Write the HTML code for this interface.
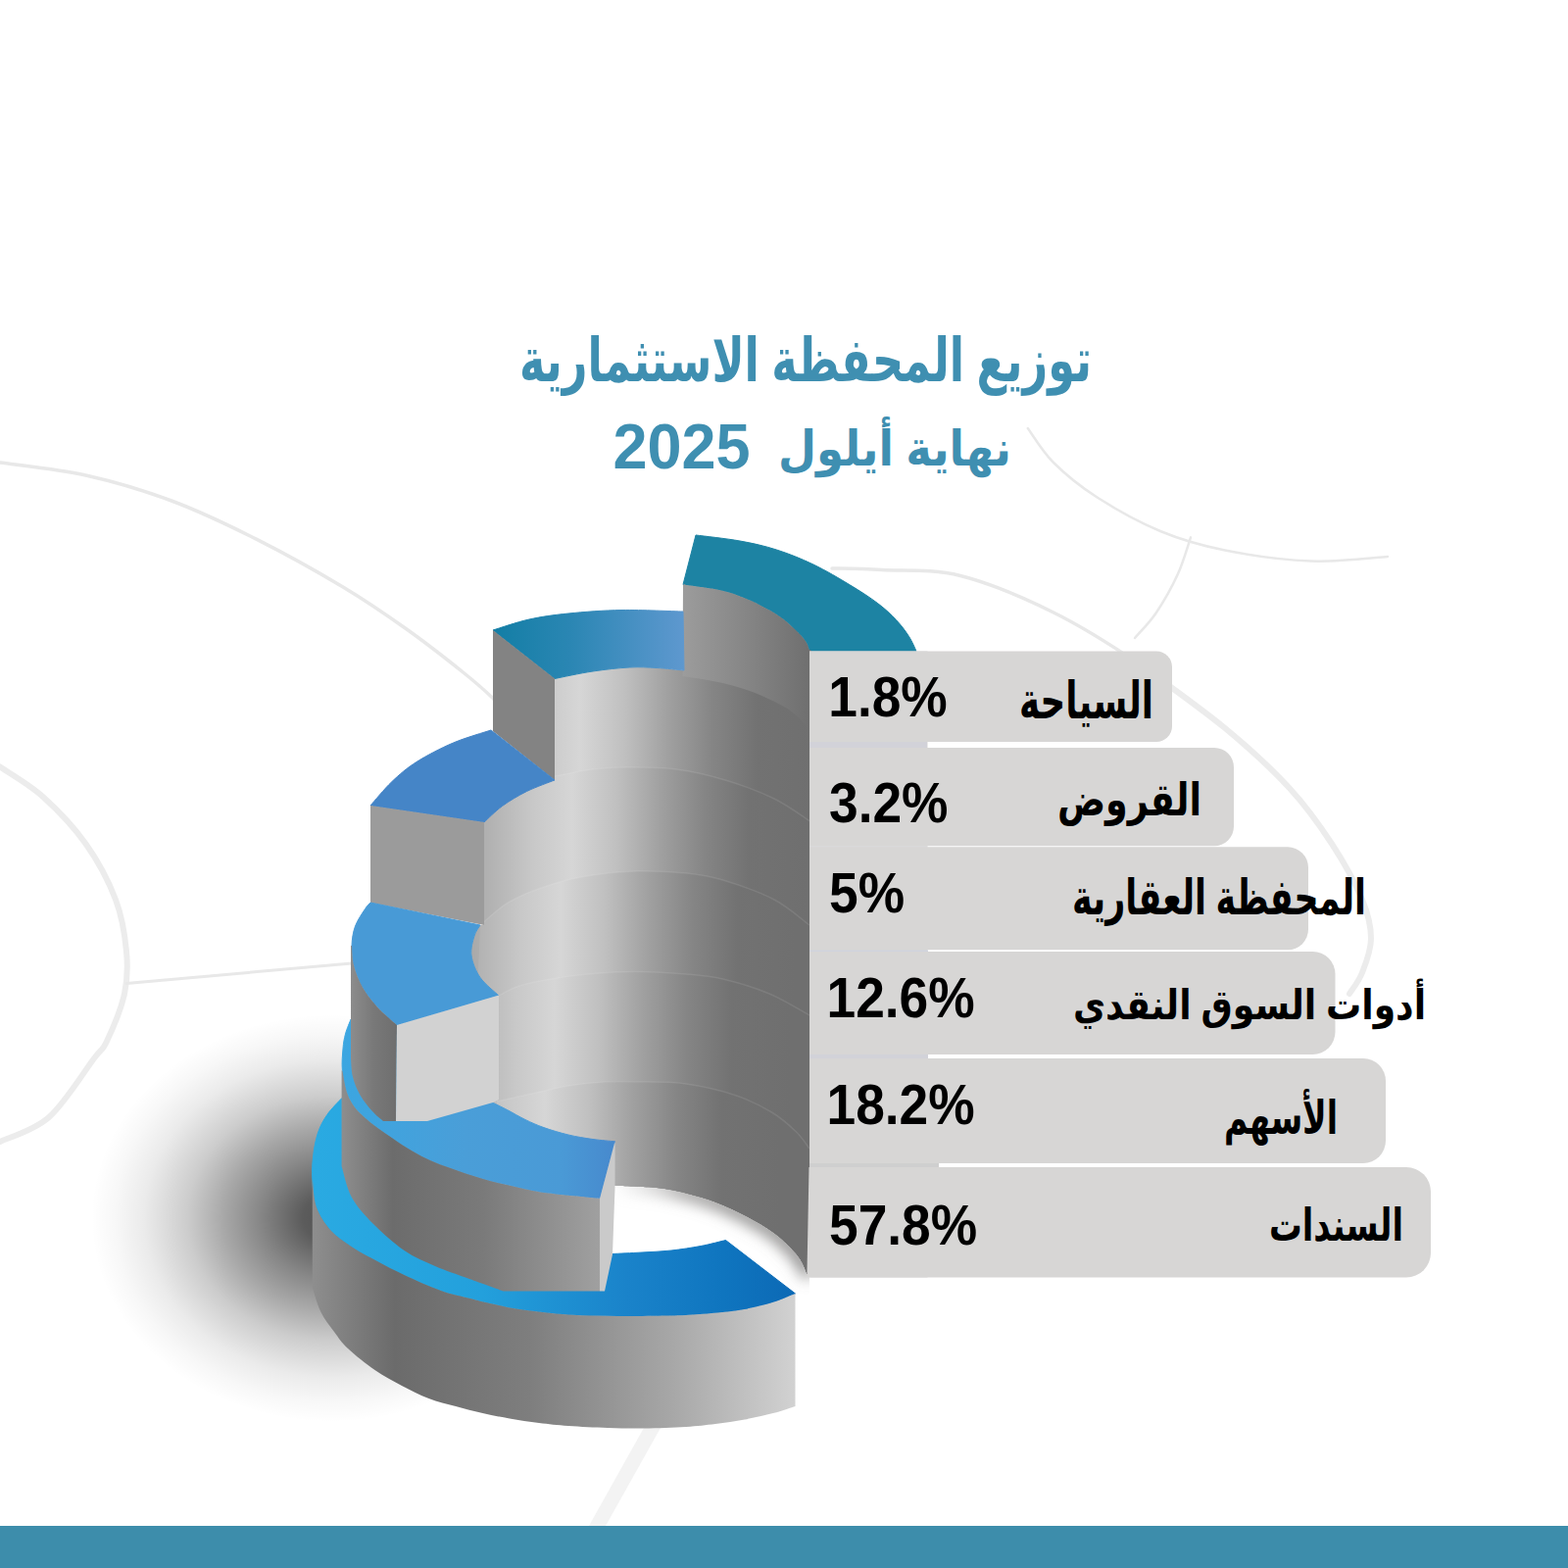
<!DOCTYPE html>
<html lang="ar"><head><meta charset="utf-8"><title>توزيع المحفظة الاستثمارية</title>
<style>
html,body{margin:0;padding:0;background:#fff}
body{width:1600px;height:1600px;position:relative;overflow:hidden;font-family:"Liberation Sans",sans-serif}
svg{position:absolute;left:0;top:0}
.bar{position:absolute;left:0;top:1557px;width:1600px;height:43px;background:#3d8dab}
.p{position:absolute;left:844.5px;font-weight:bold;font-size:53.3px;line-height:60px;height:60px;color:#000;white-space:nowrap;transform:scaleY(1.085);transform-origin:0 48.3px}
.yr{position:absolute;left:625.4px;top:421.2px;font-weight:bold;font-size:63px;line-height:70px;color:#3f8fb1;transform:scaleY(1.03);transform-origin:0 56.8px}
.h{position:absolute;overflow:hidden;color:transparent;font-size:10px;line-height:10px;direction:rtl;white-space:nowrap;pointer-events:none}
</style></head><body>
<svg width="1600" height="1600" viewBox="0 0 1600 1600" role="img" aria-label="توزيع المحفظة الاستثمارية نهاية أيلول 2025">
<defs>
<linearGradient id="s5" gradientUnits="userSpaceOnUse" x1="492" y1="0" x2="832" y2="0"><stop offset="0.000" stop-color="#aaaaaa"/><stop offset="0.176" stop-color="#c8c8c8"/><stop offset="0.294" stop-color="#d6d6d6"/><stop offset="0.426" stop-color="#c0c0c0"/><stop offset="0.559" stop-color="#a0a0a0"/><stop offset="0.691" stop-color="#858585"/><stop offset="0.824" stop-color="#727272"/><stop offset="1.000" stop-color="#6f6f6f"/></linearGradient><linearGradient id="s4" gradientUnits="userSpaceOnUse" x1="484" y1="0" x2="824" y2="0"><stop offset="0.000" stop-color="#aaaaaa"/><stop offset="0.176" stop-color="#c8c8c8"/><stop offset="0.294" stop-color="#d6d6d6"/><stop offset="0.426" stop-color="#c0c0c0"/><stop offset="0.559" stop-color="#a0a0a0"/><stop offset="0.691" stop-color="#858585"/><stop offset="0.824" stop-color="#727272"/><stop offset="1.000" stop-color="#6f6f6f"/></linearGradient><linearGradient id="s3" gradientUnits="userSpaceOnUse" x1="472" y1="0" x2="812" y2="0"><stop offset="0.000" stop-color="#aaaaaa"/><stop offset="0.176" stop-color="#c8c8c8"/><stop offset="0.294" stop-color="#d6d6d6"/><stop offset="0.426" stop-color="#c0c0c0"/><stop offset="0.559" stop-color="#a0a0a0"/><stop offset="0.691" stop-color="#858585"/><stop offset="0.824" stop-color="#727272"/><stop offset="1.000" stop-color="#6f6f6f"/></linearGradient><linearGradient id="s2" gradientUnits="userSpaceOnUse" x1="466" y1="0" x2="806" y2="0"><stop offset="0.000" stop-color="#aaaaaa"/><stop offset="0.176" stop-color="#c8c8c8"/><stop offset="0.294" stop-color="#d6d6d6"/><stop offset="0.426" stop-color="#c0c0c0"/><stop offset="0.559" stop-color="#a0a0a0"/><stop offset="0.691" stop-color="#858585"/><stop offset="0.824" stop-color="#727272"/><stop offset="1.000" stop-color="#6f6f6f"/></linearGradient><linearGradient id="s1" gradientUnits="userSpaceOnUse" x1="456" y1="0" x2="796" y2="0"><stop offset="0.000" stop-color="#aaaaaa"/><stop offset="0.176" stop-color="#c8c8c8"/><stop offset="0.294" stop-color="#d6d6d6"/><stop offset="0.426" stop-color="#c0c0c0"/><stop offset="0.559" stop-color="#a0a0a0"/><stop offset="0.691" stop-color="#858585"/><stop offset="0.824" stop-color="#727272"/><stop offset="1.000" stop-color="#6f6f6f"/></linearGradient>
<linearGradient id="g6" gradientUnits="userSpaceOnUse" x1="697" y1="0" x2="826" y2="0"><stop offset="0" stop-color="#9c9c9c"/><stop offset="1" stop-color="#6f6f6f"/></linearGradient>
<linearGradient id="t5" gradientUnits="userSpaceOnUse" x1="503" y1="0" x2="698" y2="0"><stop offset="0" stop-color="#137ea5"/><stop offset=".4" stop-color="#2a86b3"/><stop offset="1" stop-color="#5e98cf"/></linearGradient>
<linearGradient id="t2" gradientUnits="userSpaceOnUse" x1="348" y1="0" x2="628" y2="0"><stop offset="0" stop-color="#3ba6e1"/><stop offset=".45" stop-color="#4a9ed8"/><stop offset=".8" stop-color="#4a9ad6"/><stop offset="1" stop-color="#4789cd"/></linearGradient>
<linearGradient id="t1" gradientUnits="userSpaceOnUse" x1="319" y1="0" x2="812" y2="0"><stop offset="0" stop-color="#2aaae2"/><stop offset=".35" stop-color="#23a0dc"/><stop offset=".65" stop-color="#1a83ca"/><stop offset=".85" stop-color="#0f75bf"/><stop offset="1" stop-color="#0c69b5"/></linearGradient>
<linearGradient id="w3" gradientUnits="userSpaceOnUse" x1="358" y1="0" x2="406" y2="0"><stop offset="0" stop-color="#8c8c8c"/><stop offset=".5" stop-color="#787878"/><stop offset="1" stop-color="#6e6e6e"/></linearGradient>
<linearGradient id="w2" gradientUnits="userSpaceOnUse" x1="348" y1="0" x2="612" y2="0"><stop offset="0" stop-color="#8e8e8e"/><stop offset=".2" stop-color="#6c6c6c"/><stop offset=".55" stop-color="#7a7a7a"/><stop offset="1" stop-color="#a0a0a0"/></linearGradient>
<linearGradient id="w1" gradientUnits="userSpaceOnUse" x1="319" y1="0" x2="812" y2="0"><stop offset="0" stop-color="#8e8e8e"/><stop offset=".17" stop-color="#6b6b6b"/><stop offset=".45" stop-color="#7e7e7e"/><stop offset=".75" stop-color="#a8a8a8"/><stop offset="1" stop-color="#d2d2d2"/></linearGradient>
<linearGradient id="hs" gradientUnits="userSpaceOnUse" x1="627" y1="0" x2="827" y2="0"><stop offset="0" stop-color="#b0b0b0" stop-opacity="0"/><stop offset=".12" stop-color="#a8a8a8" stop-opacity=".35"/><stop offset=".36" stop-color="#8c8a89" stop-opacity="1"/><stop offset=".66" stop-color="#757473" stop-opacity="1"/><stop offset="1" stop-color="#706f6e" stop-opacity="1"/></linearGradient>
<radialGradient id="fs" gradientUnits="objectBoundingBox" cx=".5" cy=".5" r=".5"><stop offset="0" stop-opacity=".68"/><stop offset=".12" stop-opacity=".64"/><stop offset=".3" stop-opacity=".47"/><stop offset=".45" stop-opacity=".34"/><stop offset=".6" stop-opacity=".2"/><stop offset=".78" stop-opacity=".08"/><stop offset=".9" stop-opacity=".03"/><stop offset="1" stop-opacity="0"/></radialGradient>
<filter id="sh" x="-100%" y="-100%" width="300%" height="300%"><feGaussianBlur stdDeviation="62 38"/></filter>
<filter id="sh2" x="-50%" y="-50%" width="200%" height="200%"><feGaussianBlur stdDeviation="8"/></filter>
<clipPath id="cb"><path d="M566 692.5C572.5 691.2 592.2 686.9 605 685C617.8 683.1 631.7 681.6 642.5 681C653.3 680.4 660.8 681 670 681.5C679.2 682 693.3 683.6 698 684L698 596L828 664L828 1300L823.5 1300C821.2 1292.8 818 1285.2 812.5 1279C807 1272.8 798.8 1264.5 790 1258C781.2 1251.5 770 1245.2 760 1240C750 1234.8 740 1230.2 730 1226.5C720 1222.8 710 1219.9 700 1217.5C690 1215.1 682.1 1213.2 670 1212C657.9 1210.8 634.4 1210.3 627.2 1210L627.5 1164.75C623.8 1164.4 612.9 1163.6 605 1162.5C597.1 1161.4 588.3 1160 580 1158C571.7 1156 562.3 1153.2 555 1150.6C547.7 1148 542.2 1145.5 536 1142.5C529.8 1139.5 523.1 1135.4 517.5 1132.5C511.9 1129.6 505 1126.2 502.5 1125L509 1122L509 1016C505.8 1012.9 494.7 1004.3 490 997.5C485.3 990.7 482 982.1 481 975C480 967.9 482.5 960.2 484 955C485.5 949.8 489 945.8 490 944L494 944L494 839C497.1 836.2 505.2 827.8 512.5 822.5C519.8 817.2 528.6 811.9 537.5 807.5C546.4 803.1 561.2 797.9 566 796L566 692.5Z"/></clipPath>
<clipPath id="hole"><path d="M627 1150L826 1150L826 1345L811.5 1320L740.5 1265.5C736.2 1266.5 724.2 1269.8 715 1271.5C705.8 1273.2 695 1274.9 685 1276C675 1277.1 665 1277.4 655 1278C645 1278.6 630 1279.2 625 1279.5L627 1212Z"/></clipPath>
</defs>
<!-- background watermark curves -->
<g fill="none" stroke="#e8e8e8" stroke-linecap="round">
<path d="M0 472C14.6 474.2 58.3 478.5 87.5 485C116.7 491.5 145.8 500.1 175 511C204.2 521.9 233.3 535.9 262.5 550.6C291.7 565.3 324.5 583.7 350 599C375.5 614.3 395.2 628 415.6 642.5C436 657 457.9 674.3 472.5 686C487.1 697.7 491.8 701.8 503 712.5C514.2 723.2 533.8 743.8 540 750" stroke-width="3.5"/>
<path d="M849 580C857.5 580.2 878.2 580.2 900 581.5C921.8 582.8 950.8 580.2 980 587.5C1009.2 594.8 1044.6 610 1075 625C1105.4 640 1133.3 657.8 1162.5 677.5C1191.7 697.2 1235.4 732.1 1250 743" stroke-width="3.5"/>
<path d="M1162.5 677.5C1177.1 688.4 1224.5 721.9 1250 743C1275.5 764.1 1297.4 784.3 1315.6 804C1333.8 823.7 1346.6 842 1359 861C1371.4 880 1383.3 901.9 1390 918C1396.7 934.1 1399 945.1 1399 957.5C1399 969.9 1393.7 983.1 1390 992.5C1386.3 1001.9 1379.2 1010.4 1377 1014" stroke-width="6" stroke="#ececec"/>
<path d="M1048.8 437C1053.1 442.8 1063.3 460.3 1075 472C1086.7 483.7 1100.6 495.3 1118.8 507C1136.9 518.7 1162.1 532.9 1184 542C1205.9 551.1 1224.4 556.4 1250 561.5C1275.6 566.6 1309.8 571.4 1337.5 572.5C1365.2 573.6 1402.9 568.8 1416 568" stroke-width="2.5"/>
<path d="M1215 548.4C1212.8 554.6 1207.8 572.8 1202 585.6C1196.2 598.4 1187.3 614.1 1180 625C1172.7 635.9 1161.7 646.7 1158 651" stroke-width="2.5"/>
<path d="M0 782.5C7.3 787.6 29.2 799.9 43.8 813C58.3 826.1 75.1 843.5 87.5 861C99.9 878.5 111.1 899.7 118 918C124.9 936.3 127.5 954.6 129 970.6C130.5 986.6 130.3 998.7 127 1014C123.7 1029.3 114.2 1051.5 109 1062.5C103.8 1073.5 105.8 1067.1 96 1080C86.2 1092.9 66 1125.8 50 1140C34 1154.2 8.3 1160.8 0 1165" stroke-width="6" stroke="#ececec"/>
<path d="M129 1003.5L358.75 983" stroke-width="3"/>
</g>
<path d="M601 1557L618 1557L674 1457L657 1457Z" fill="#f3f3f3"/>
<!-- floor shadow -->
<ellipse cx="338" cy="1243" rx="245" ry="208" fill="url(#fs)"/>
<path d="M612 1200L826 1200L826 1345L811.5 1320L740.5 1265.5C736.2 1266.5 724.2 1269.8 715 1271.5C705.8 1273.2 695 1274.9 685 1276C675 1277.1 665 1277.4 655 1278C645 1278.6 630 1279.2 625 1279.5L612 1300Z" fill="#fff"/>
<!-- level 6 -->
<path d="M710 546C717.5 547 741.2 549.5 755 552C768.8 554.5 780 557 792.5 561C805 565 817.5 570 830 576C842.5 582 856.6 590.4 867.5 597C878.4 603.6 887.8 609.7 895.6 615.6C903.4 621.5 909.1 626.9 914.4 632.5C919.7 638.1 924.1 644.1 927.5 649.4C930.9 654.7 933.8 661.9 935 664.4L826 664.4C825.4 662.8 825 658.7 822.5 655C820 651.3 816 646.7 811 642C806 637.3 800.3 632 792.5 627C784.7 622 773.4 616.1 764 612C754.6 607.9 747.2 605.1 736 602.5C724.8 599.9 703.5 597.5 697 596.5Z" fill="#1d83a3" stroke="#1d83a3" stroke-width="1"/>
<g clip-path="url(#hole)"><path d="M627.2 1210C634.4 1210.3 657.9 1210.8 670 1212C682.1 1213.2 690 1215.1 700 1217.5C710 1219.9 720 1222.8 730 1226.5C740 1230.2 750 1234.8 760 1240C770 1245.2 781.2 1251.5 790 1258C798.8 1264.5 807 1272.8 812.5 1279C818 1285.2 820.9 1291.7 823 1295.5C825.1 1299.3 824.7 1300.9 825 1302" fill="none" stroke="url(#hs)" stroke-width="12" filter="url(#sh2)"/></g>
<!-- body -->
<g clip-path="url(#cb)">
<rect x="470" y="590" width="360" height="720" fill="url(#s5)"/>
<path d="M566 792C572.5 790.8 592.7 786.5 605 785C617.3 783.5 625.8 783 640 783C654.2 783 673.3 782.8 690 785C706.7 787.2 723.3 791 740 796C756.7 801 775.3 807.8 790 815C804.7 822.2 821.7 835 828 839L826 1400L470 1400L470 800Z" fill="url(#s4)"/>
<path d="M490 944C495 940 507.9 926.9 520 920C532.1 913.1 548.3 907 562.5 902.5C576.7 898 590.4 895.2 605 893C619.6 890.8 634.2 889.3 650 889C665.8 888.7 685.4 889.5 700 891C714.6 892.5 722.5 893.5 737.5 898C752.5 902.5 775.2 910.3 790 918C804.8 925.7 820 939.7 826 944L826 1400L470 1400Z" fill="url(#s3)"/>
<path d="M509 1016C512.5 1014.3 521.1 1008.8 530 1006C538.9 1003.2 550 1001.1 562.5 999C575 996.9 590.4 994.8 605 993.5C619.6 992.2 634.2 991.4 650 991.5C665.8 991.6 685.4 992.8 700 994C714.6 995.2 723.3 995.7 737.5 999C751.7 1002.3 770.2 1007.8 785 1014C799.8 1020.2 819.2 1032.3 826 1036L826 1400L470 1400Z" fill="url(#s2)"/>
<path d="M507 1124C512.9 1122.7 530.3 1118.7 542.5 1116C554.7 1113.3 567.5 1110 580 1108C592.5 1106 605 1104.7 617.5 1104C630 1103.3 641.2 1103.7 655 1104C668.8 1104.3 684.2 1103.8 700 1106C715.8 1108.2 735.4 1112.7 750 1117.5C764.6 1122.3 777.1 1128.8 787.5 1135C797.9 1141.2 806.1 1148.8 812.5 1155C818.9 1161.2 823.8 1169.2 826 1172L826 1400L470 1400Z" fill="url(#s1)"/>
<g fill="none" stroke="#fff" stroke-opacity=".09" stroke-width="1.5">
<path d="M566 792C572.5 790.8 592.7 786.5 605 785C617.3 783.5 625.8 783 640 783C654.2 783 673.3 782.8 690 785C706.7 787.2 723.3 791 740 796C756.7 801 775.3 807.8 790 815C804.7 822.2 821.7 835 828 839"/><path d="M490 944C495 940 507.9 926.9 520 920C532.1 913.1 548.3 907 562.5 902.5C576.7 898 590.4 895.2 605 893C619.6 890.8 634.2 889.3 650 889C665.8 888.7 685.4 889.5 700 891C714.6 892.5 722.5 893.5 737.5 898C752.5 902.5 775.2 910.3 790 918C804.8 925.7 820 939.7 826 944"/><path d="M509 1016C512.5 1014.3 521.1 1008.8 530 1006C538.9 1003.2 550 1001.1 562.5 999C575 996.9 590.4 994.8 605 993.5C619.6 992.2 634.2 991.4 650 991.5C665.8 991.6 685.4 992.8 700 994C714.6 995.2 723.3 995.7 737.5 999C751.7 1002.3 770.2 1007.8 785 1014C799.8 1020.2 819.2 1032.3 826 1036"/><path d="M507 1124C512.9 1122.7 530.3 1118.7 542.5 1116C554.7 1113.3 567.5 1110 580 1108C592.5 1106 605 1104.7 617.5 1104C630 1103.3 641.2 1103.7 655 1104C668.8 1104.3 684.2 1103.8 700 1106C715.8 1108.2 735.4 1112.7 750 1117.5C764.6 1122.3 777.1 1128.8 787.5 1135C797.9 1141.2 806.1 1148.8 812.5 1155C818.9 1161.2 823.8 1169.2 826 1172"/></g>
</g>
<path d="M697 596.5C703.5 597.5 724.8 599.9 736 602.5C747.2 605.1 754.6 607.9 764 612C773.4 616.1 784.7 622 792.5 627C800.3 632 806 637.3 811 642C816 646.7 820 651.3 822.5 655C825 658.7 825.4 662.8 826 664.4L828 664.4L828 748C824.6 745.8 821.4 739.2 817.5 735C813.6 730.8 809.2 726.7 802.5 722.5C795.8 718.3 785.8 713.6 777.5 710C769.2 706.4 760.8 703.5 752.5 701C744.2 698.5 736.8 696.8 727.5 695C718.2 693.2 701.7 690.8 696.5 690Z" fill="url(#g6)"/>
<!-- hole shadow -->

<!-- level 5 -->
<path d="M503 643C509.2 641.2 527.2 634.8 540 632C552.8 629.2 564.2 627.6 580 626C595.8 624.4 615.5 622.8 635 622.5C654.5 622.2 686.7 623.8 697 624L698 684C693.3 683.6 679.2 682 670 681.5C660.8 681 653.3 680.4 642.5 681C631.7 681.6 617.8 683.1 605 685C592.2 686.9 572.5 691.2 566 692.5Z" fill="url(#t5)" stroke="url(#t5)" stroke-width="1"/>
<path d="M503 643L566 692.5L566 796L503 746Z" fill="#838383"/>
<!-- level 4 -->
<path d="M501 745C494.6 747.2 475.2 752.6 462.5 758C449.8 763.4 435.4 770.9 425 777.5C414.6 784.1 407.8 790.1 400 797.5C392.2 804.9 381.7 817.9 378 822L494 839C497.1 836.2 505.2 827.8 512.5 822.5C519.8 817.2 528.6 811.9 537.5 807.5C546.4 803.1 561.2 797.9 566 796Z" fill="#4585c7" stroke="#4585c7" stroke-width="1"/>
<path d="M378 822L494 839L494 944L378 921Z" fill="#9b9b9b"/>
<!-- level 1 -->
<path d="M348.8 1120.6C346.2 1123.4 337.8 1131.6 333.8 1137.5C329.7 1143.4 326.7 1149.1 324.4 1156C322.1 1162.9 320.6 1170.9 319.7 1178.8C318.8 1186.6 318.2 1194.1 318.8 1203C319.3 1211.9 319.8 1223.2 323 1232C326.2 1240.8 331.8 1249.2 338 1256C344.2 1262.8 352.2 1267.8 360 1273C367.8 1278.2 376.2 1282.3 385 1287C393.8 1291.7 401.7 1296 412.5 1301C423.3 1306 438.8 1313 450 1317C461.2 1321 471.7 1322.8 480 1325C488.3 1327.2 491.7 1328.2 500 1330C508.3 1331.8 516.7 1334.1 530 1336C543.3 1337.9 563.3 1340.3 580 1341.5C596.7 1342.7 613.3 1342.8 630 1343C646.7 1343.2 668.3 1342.7 680 1342.5C691.7 1342.3 691.7 1342.5 700 1342C708.3 1341.5 720 1340.8 730 1339.8C740 1338.8 750 1337.9 760 1336C770 1334.1 781.4 1331.2 790 1328.5C798.6 1325.8 807.9 1321.4 811.5 1320L740.5 1265.5C736.2 1266.5 724.2 1269.8 715 1271.5C705.8 1273.2 695 1274.9 685 1276C675 1277.1 665 1277.4 655 1278C645 1278.6 630 1279.2 625 1279.5L348.6 1190Z" fill="url(#t1)" stroke="url(#t1)" stroke-width="1"/>
<path d="M318.8 1203C319.5 1207.8 319.8 1223.2 323 1232C326.2 1240.8 331.8 1249.2 338 1256C344.2 1262.8 352.2 1267.8 360 1273C367.8 1278.2 376.2 1282.3 385 1287C393.8 1291.7 401.7 1296 412.5 1301C423.3 1306 438.8 1313 450 1317C461.2 1321 471.7 1322.8 480 1325C488.3 1327.2 491.7 1328.2 500 1330C508.3 1331.8 516.7 1334.1 530 1336C543.3 1337.9 563.3 1340.3 580 1341.5C596.7 1342.7 613.3 1342.8 630 1343C646.7 1343.2 668.3 1342.7 680 1342.5C691.7 1342.3 691.7 1342.5 700 1342C708.3 1341.5 720 1340.8 730 1339.8C740 1338.8 750 1337.9 760 1336C770 1334.1 781.4 1331.2 790 1328.5C798.6 1325.8 807.9 1321.4 811.5 1320L811.5 1435C807.9 1436.1 798.6 1439.5 790 1441.8C781.4 1444 770 1446.6 760 1448.5C750 1450.4 740 1451.8 730 1453C720 1454.2 712.1 1455.2 700 1456C687.9 1456.8 670.8 1457.3 657.5 1457.5C644.2 1457.7 632.9 1457.4 620 1457C607.1 1456.6 591.7 1455.8 580 1455C568.3 1454.2 560 1453.2 550 1452C540 1450.8 529.6 1449.2 520 1447.5C510.4 1445.8 501.7 1444.1 492.5 1442C483.3 1439.9 474.2 1437.5 465 1435C455.8 1432.5 446.7 1430.5 437.5 1427C428.3 1423.5 419.2 1418.8 410 1414C400.8 1409.2 391.7 1404.3 382.5 1398C373.3 1391.7 361.9 1382.5 355 1376C348.1 1369.5 345.6 1365.2 341 1359C336.4 1352.8 331.2 1346.5 327.5 1339C323.8 1331.5 320.2 1318.2 318.8 1314L318.75 1203Z" fill="url(#w1)"/>
<!-- level 2 -->
<path d="M358 1040C357.1 1042.5 353.8 1050 352.5 1055C351.2 1060 350.5 1063.8 350 1070C349.5 1076.2 348.6 1084.6 349.4 1092.5C350.2 1100.4 352 1110.2 355 1117.5C358 1124.8 361.2 1129.6 367.5 1136C373.8 1142.4 382.1 1148.7 392.5 1156C402.9 1163.3 417.5 1173.2 430 1179.7C442.5 1186.2 455.8 1190.5 467.5 1194.8C479.2 1199 489.6 1202.1 500 1205C510.4 1207.9 520.8 1210 530 1212C539.2 1214 544.6 1215.5 555 1217C565.4 1218.5 582.9 1220 592.5 1221C602.1 1222 609.2 1222.7 612.5 1223L627.5 1164.75C623.8 1164.4 612.9 1163.6 605 1162.5C597.1 1161.4 588.3 1160 580 1158C571.7 1156 562.3 1153.2 555 1150.6C547.7 1148 542.2 1145.5 536 1142.5C529.8 1139.5 523.1 1135.4 517.5 1132.5C511.9 1129.6 505 1126.2 502.5 1125L405 1046Z" fill="url(#t2)" stroke="url(#t2)" stroke-width="1"/>
<path d="M349.4 1092.5C350.3 1096.7 352 1110.2 355 1117.5C358 1124.8 361.2 1129.6 367.5 1136C373.8 1142.4 382.1 1148.7 392.5 1156C402.9 1163.3 417.5 1173.2 430 1179.7C442.5 1186.2 455.8 1190.5 467.5 1194.8C479.2 1199 489.6 1202.1 500 1205C510.4 1207.9 520.8 1210 530 1212C539.2 1214 544.6 1215.5 555 1217C565.4 1218.5 582.9 1220 592.5 1221C602.1 1222 609.2 1222.7 612.5 1223L612 1317.5L513.75 1317.5C509.8 1316.1 496.5 1311.3 490 1309C483.5 1306.7 482.7 1306.3 475 1303.5C467.3 1300.7 454.4 1296.6 444 1292C433.6 1287.4 423 1283.2 412.5 1276C402 1268.8 389.9 1258 381 1249C372.1 1240 364.4 1231.8 359 1222C353.6 1212.2 350.3 1195.3 348.6 1190L348.6 1092.5Z" fill="url(#w2)"/>
<path d="M627.5 1164.8L612 1223L612 1317.5L617 1317.5L625 1280L627.5 1212Z" fill="#cacaca"/>
<!-- level 3 -->
<path d="M378 921C377.1 922.1 375.1 923.5 372.5 927.5C369.9 931.5 364.8 938.8 362.5 945C360.2 951.2 359.2 958.3 359 965C358.8 971.7 359.2 977.9 361 985C362.8 992.1 366 1000.4 370 1007.5C374 1014.6 379.2 1021.1 385 1027.5C390.8 1033.9 401.7 1042.9 405 1046L509 1016C505.8 1012.9 494.7 1004.3 490 997.5C485.3 990.7 482 982.1 481 975C480 967.9 482.5 960.2 484 955C485.5 949.8 489 945.8 490 944Z" fill="#489ad6" stroke="#489ad6" stroke-width="1"/>
<path d="M359 965C359.3 968.3 359.2 977.9 361 985C362.8 992.1 366 1000.4 370 1007.5C374 1014.6 379.2 1021.1 385 1027.5C390.8 1033.9 401.7 1042.9 405 1046L404 1144L391 1144C389.2 1142.3 383.9 1138.4 380 1134C376.1 1129.6 370.8 1123.3 367.5 1117.5C364.2 1111.7 361.6 1105.2 360 1099C358.4 1092.8 358.3 1083.2 358 1080L358 965Z" fill="url(#w3)"/>
<path d="M405 1046L509 1015.5L509 1122L503 1125L436 1144L404 1144Z" fill="#d2d2d2"/>
<!-- label boxes -->
<rect x="826" y="664.5" width="120.5" height="639" fill="#d7d6d5"/><rect x="946" y="1186" width="12" height="6" fill="#d3d3d3"/><g fill="#d2d2d9"><rect x="826" y="757" width="120" height="6"/><rect x="826" y="863.5" width="120" height="1.2" fill="#dddde2"/><rect x="826" y="969.5" width="121" height="1.6" fill="#d0d3de"/><rect x="826" y="1076" width="121" height="4"/><rect x="826" y="1187" width="132" height="4" fill="#cfcfcf"/></g>
<g fill="#d7d6d5"><path d="M826 664.5L1180 664.5A16 16 0 0 1 1196 680.5L1196 741A16 16 0 0 1 1180 757L826 757Z"/><path d="M826 763L1239 763A20 20 0 0 1 1259 783L1259 843.3A20 20 0 0 1 1239 863.3L826 863.3Z"/><path d="M826 864.3L1314 864.3A21 21 0 0 1 1335 885.3L1335 948.3A21 21 0 0 1 1314 969.3L826 969.3Z"/><path d="M826 971L1339.5 971A23 23 0 0 1 1362.5 994L1362.5 1053A23 23 0 0 1 1339.5 1076L826 1076Z"/><path d="M826 1080L1391 1080A23 23 0 0 1 1414 1103L1414 1164A23 23 0 0 1 1391 1187L826 1187Z"/><path d="M825.5 1191L1435 1191A25 25 0 0 1 1460 1216L1460 1278.5A25 25 0 0 1 1435 1303.5L828 1303.5Q823.5 1303.5 823.5 1299Z"/></g>
<g fill="#000" font-family="'Liberation Sans','DejaVu Sans',sans-serif" font-weight="bold" text-anchor="middle" direction="rtl">
<text x="1108.5" y="733" font-size="52" textLength="137" lengthAdjust="spacingAndGlyphs">السياحة</text>
<text x="1152.5" y="831.5" font-size="46" textLength="147" lengthAdjust="spacingAndGlyphs">القروض</text>
<text x="1244" y="933" font-size="50" textLength="300" lengthAdjust="spacingAndGlyphs">المحفظة العقارية</text>
<text x="1275" y="1040" font-size="42" textLength="360" lengthAdjust="spacingAndGlyphs">أدوات السوق النقدي</text>
<text x="1307" y="1157" font-size="48" textLength="116" lengthAdjust="spacingAndGlyphs">الأسهم</text>
<text x="1363.5" y="1265.5" font-size="46" textLength="137" lengthAdjust="spacingAndGlyphs">السندات</text>
</g>
<g fill="#3f8fb1" font-family="'Liberation Sans','DejaVu Sans',sans-serif" font-weight="bold" text-anchor="middle" direction="rtl">
<text x="822" y="389" font-size="62" textLength="584" lengthAdjust="spacingAndGlyphs">توزيع المحفظة الاستثمارية</text>
<text x="913" y="474.5" font-size="50" textLength="238" lengthAdjust="spacingAndGlyphs">نهاية أيلول</text>
</g>
</svg>
<div class="p" style="top:682.95px;left:845.25px">1.8%</div><div class="p" style="top:791.10px;left:846.00px">3.2%</div><div class="p" style="top:882.95px;left:846.00px">5%</div><div class="p" style="top:989.70px;left:843.50px">12.6%</div><div class="p" style="top:1098.70px;left:843.50px">18.2%</div><div class="p" style="top:1221.70px;left:846.00px">57.8%</div>
<div class="h" style="left:530px;top:342px;width:584px;height:68px">توزيع المحفظة الاستثمارية</div><div class="h" style="left:794px;top:426px;width:238px;height:62px">نهاية أيلول</div><div class="h" style="left:1040px;top:694px;width:137px;height:52px">السياحة</div><div class="h" style="left:1079px;top:800px;width:147px;height:44px">القروض</div><div class="h" style="left:1094px;top:895px;width:300px;height:51px">المحفظة العقارية</div><div class="h" style="left:1095px;top:1000px;width:360px;height:59px">أدوات السوق النقدي</div><div class="h" style="left:1249px;top:1112px;width:116px;height:61px">الأسهم</div><div class="h" style="left:1295px;top:1231px;width:137px;height:35px">السندات</div>
<div class="yr">2025</div>
<div class="bar"></div>
</body></html>
